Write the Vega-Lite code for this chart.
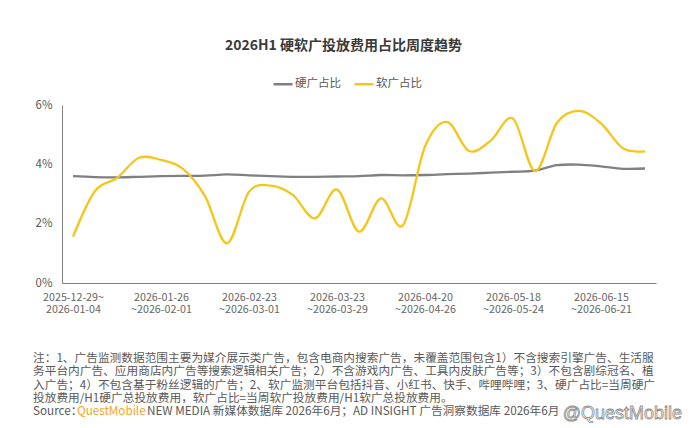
{
  "$schema": "https://vega.github.io/schema/vega-lite/v6.json",
  "background": "#ffffff",
  "padding": {"left": 33, "top": 39, "right": 0, "bottom": 0},
  "title": {"text": "2026H1 硬软广投放费用占比周度趋势", "font": "Noto Sans CJK SC", "fontSize": 14, "fontWeight": "bold", "color": "#3a3a3a", "anchor": "middle", "offset": 20, "dx": -14},
  "config": {"view": {"stroke": null}, "font": "Noto Sans CJK SC"},
  "datasets": {
    "weekly": [
      {"week": "2025-12-29", "series": "硬广占比", "value": 3.60},
      {"week": "2026-01-05", "series": "硬广占比", "value": 3.57},
      {"week": "2026-01-12", "series": "硬广占比", "value": 3.56},
      {"week": "2026-01-19", "series": "硬广占比", "value": 3.58},
      {"week": "2026-01-26", "series": "硬广占比", "value": 3.60},
      {"week": "2026-02-02", "series": "硬广占比", "value": 3.61},
      {"week": "2026-02-09", "series": "硬广占比", "value": 3.62},
      {"week": "2026-02-16", "series": "硬广占比", "value": 3.66},
      {"week": "2026-02-23", "series": "硬广占比", "value": 3.63},
      {"week": "2026-03-02", "series": "硬广占比", "value": 3.60},
      {"week": "2026-03-09", "series": "硬广占比", "value": 3.58},
      {"week": "2026-03-16", "series": "硬广占比", "value": 3.58},
      {"week": "2026-03-23", "series": "硬广占比", "value": 3.59},
      {"week": "2026-03-30", "series": "硬广占比", "value": 3.60},
      {"week": "2026-04-06", "series": "硬广占比", "value": 3.64},
      {"week": "2026-04-13", "series": "硬广占比", "value": 3.63},
      {"week": "2026-04-20", "series": "硬广占比", "value": 3.64},
      {"week": "2026-04-27", "series": "硬广占比", "value": 3.67},
      {"week": "2026-05-04", "series": "硬广占比", "value": 3.69},
      {"week": "2026-05-11", "series": "硬广占比", "value": 3.72},
      {"week": "2026-05-18", "series": "硬广占比", "value": 3.75},
      {"week": "2026-05-25", "series": "硬广占比", "value": 3.79},
      {"week": "2026-06-01", "series": "硬广占比", "value": 3.97},
      {"week": "2026-06-08", "series": "硬广占比", "value": 3.99},
      {"week": "2026-06-15", "series": "硬广占比", "value": 3.93},
      {"week": "2026-06-22", "series": "硬广占比", "value": 3.85},
      {"week": "2026-06-29", "series": "硬广占比", "value": 3.86},
      {"week": "2025-12-29", "series": "软广占比", "value": 1.56},
      {"week": "2026-01-05", "series": "软广占比", "value": 3.10},
      {"week": "2026-01-12", "series": "软广占比", "value": 3.54},
      {"week": "2026-01-19", "series": "软广占比", "value": 4.22},
      {"week": "2026-01-26", "series": "软广占比", "value": 4.15},
      {"week": "2026-02-02", "series": "软广占比", "value": 3.85},
      {"week": "2026-02-09", "series": "软广占比", "value": 2.93},
      {"week": "2026-02-16", "series": "软广占比", "value": 1.34},
      {"week": "2026-02-23", "series": "软广占比", "value": 3.07},
      {"week": "2026-03-02", "series": "软广占比", "value": 3.28},
      {"week": "2026-03-09", "series": "软广占比", "value": 2.96},
      {"week": "2026-03-16", "series": "软广占比", "value": 2.18},
      {"week": "2026-03-23", "series": "软广占比", "value": 3.15},
      {"week": "2026-03-30", "series": "软广占比", "value": 1.73},
      {"week": "2026-04-06", "series": "软广占比", "value": 2.85},
      {"week": "2026-04-13", "series": "软广占比", "value": 1.95},
      {"week": "2026-04-20", "series": "软广占比", "value": 4.60},
      {"week": "2026-04-27", "series": "软广占比", "value": 5.43},
      {"week": "2026-05-04", "series": "软广占比", "value": 4.45},
      {"week": "2026-05-11", "series": "软广占比", "value": 4.81},
      {"week": "2026-05-18", "series": "软广占比", "value": 5.54},
      {"week": "2026-05-25", "series": "软广占比", "value": 3.77},
      {"week": "2026-06-01", "series": "软广占比", "value": 5.40},
      {"week": "2026-06-08", "series": "软广占比", "value": 5.80},
      {"week": "2026-06-15", "series": "软广占比", "value": 5.38},
      {"week": "2026-06-22", "series": "软广占比", "value": 4.54},
      {"week": "2026-06-29", "series": "软广占比", "value": 4.44}
    ],
    "notes": [
      {"line": 0, "part": "note", "text": "注：1、广告监测数据范围主要为媒介展示类广告，包含电商内搜索广告，未覆盖范围包含1）不含搜索引擎广告、生活服"},
      {"line": 1, "part": "note", "text": "务平台内广告、应用商店内广告等搜索逻辑相关广告；2）不含游戏内广告、工具内皮肤广告等；3）不包含剧综冠名、植"},
      {"line": 2, "part": "note", "text": "入广告；4）不包含基于粉丝逻辑的广告；2、软广监测平台包括抖音、小红书、快手、哔哩哔哩；3、硬广占比=当周硬广"},
      {"line": 3, "part": "note", "text": "投放费用/H1硬广总投放费用，软广占比=当周软广投放费用/H1软广总投放费用。"},
      {"line": 4, "part": "note", "text": "Source："},
      {"line": 4, "part": "brand", "text": "QuestMobile"},
      {"line": 4, "part": "rest", "text": "NEW MEDIA 新媒体数据库 2026年6月；AD INSIGHT 广告洞察数据库 2026年6月"},
      {"line": 4, "part": "mark", "text": "@QuestMobile"}
    ]
  },
  "spacing": 38,
  "vconcat": [
    {
      "width": 594,
      "height": 178,
      "data": {"name": "weekly"},
      "mark": {"type": "line", "interpolate": "cardinal", "strokeWidth": 2.3},
      "encoding": {
        "x": {
          "field": "week", "type": "ordinal",
          "scale": {"type": "point", "padding": 0.5},
          "axis": {
            "title": null,
            "values": ["2025-12-29", "2026-01-26", "2026-02-23", "2026-03-23", "2026-04-20", "2026-05-18", "2026-06-15"],
            "labelExpr": "datum.value == '2025-12-29' ? [datum.value + '~', '2026-01-04'] : [datum.value, '~' + utcFormat(utcOffset('day', toDate(datum.value), 6), '%Y-%m-%d')]",
            "labelAngle": 0,
            "ticks": false,
            "domainColor": "#808080",
            "labelColor": "#666666",
            "labelFontSize": 10.7,
            "labelLineHeight": 12.5,
            "labelPadding": 9
          }
        },
        "y": {
          "field": "value", "type": "quantitative",
          "scale": {"domain": [0, 6], "nice": false},
          "axis": {
            "title": null,
            "values": [0, 2, 4, 6],
            "labelExpr": "datum.value + '%'",
            "grid": false,
            "ticks": false,
            "domainColor": "#808080",
            "labelColor": "#595959",
            "labelFontSize": 11.5,
            "labelPadding": 10
          }
        },
        "color": {
          "field": "series", "type": "nominal",
          "scale": {"domain": ["硬广占比", "软广占比"], "range": ["#808080", "#F6C51A"]},
          "legend": {
            "orient": "none",
            "legendX": 210,
            "legendY": -32,
            "direction": "horizontal",
            "title": null,
            "symbolType": "stroke",
            "symbolStrokeWidth": 2.5,
            "symbolSize": 360,
            "labelFontSize": 11.5,
            "labelColor": "#595959",
            "labelOffset": 1,
            "columnPadding": 8
          }
        }
      }
    },
    {
      "width": 594,
      "height": 53,
      "data": {"name": "notes"},
      "encoding": {
        "y": {"field": "line", "type": "ordinal", "scale": {"type": "point", "padding": 0}, "axis": null},
        "text": {"field": "text"}
      },
      "layer": [
        {
          "transform": [{"filter": "datum.part == 'note'"}],
          "mark": {"type": "text", "align": "left", "baseline": "middle", "fontSize": 11.7, "color": "#595959"},
          "encoding": {"x": {"datum": 0, "type": "quantitative", "scale": {"domain": [0, 1], "range": [-29, 620]}, "axis": null}}
        },
        {
          "transform": [{"filter": "datum.part == 'brand'"}],
          "mark": {"type": "text", "align": "left", "baseline": "middle", "fontSize": 11.7, "color": "#F5A623", "dx": 44},
          "encoding": {"x": {"datum": 0, "type": "quantitative"}}
        },
        {
          "transform": [{"filter": "datum.part == 'rest'"}],
          "mark": {"type": "text", "align": "left", "baseline": "middle", "fontSize": 11.7, "color": "#595959", "dx": 114},
          "encoding": {"x": {"datum": 0, "type": "quantitative"}}
        },
        {
          "transform": [{"filter": "datum.part == 'mark'"}],
          "mark": {"type": "text", "align": "right", "baseline": "middle", "fontSize": 18, "font": "Liberation Sans", "color": "#ffffff", "stroke": "#8c8c8c", "strokeWidth": 0.8, "dy": 3},
          "encoding": {"x": {"datum": 1, "type": "quantitative"}}
        }
      ]
    }
  ]
}
